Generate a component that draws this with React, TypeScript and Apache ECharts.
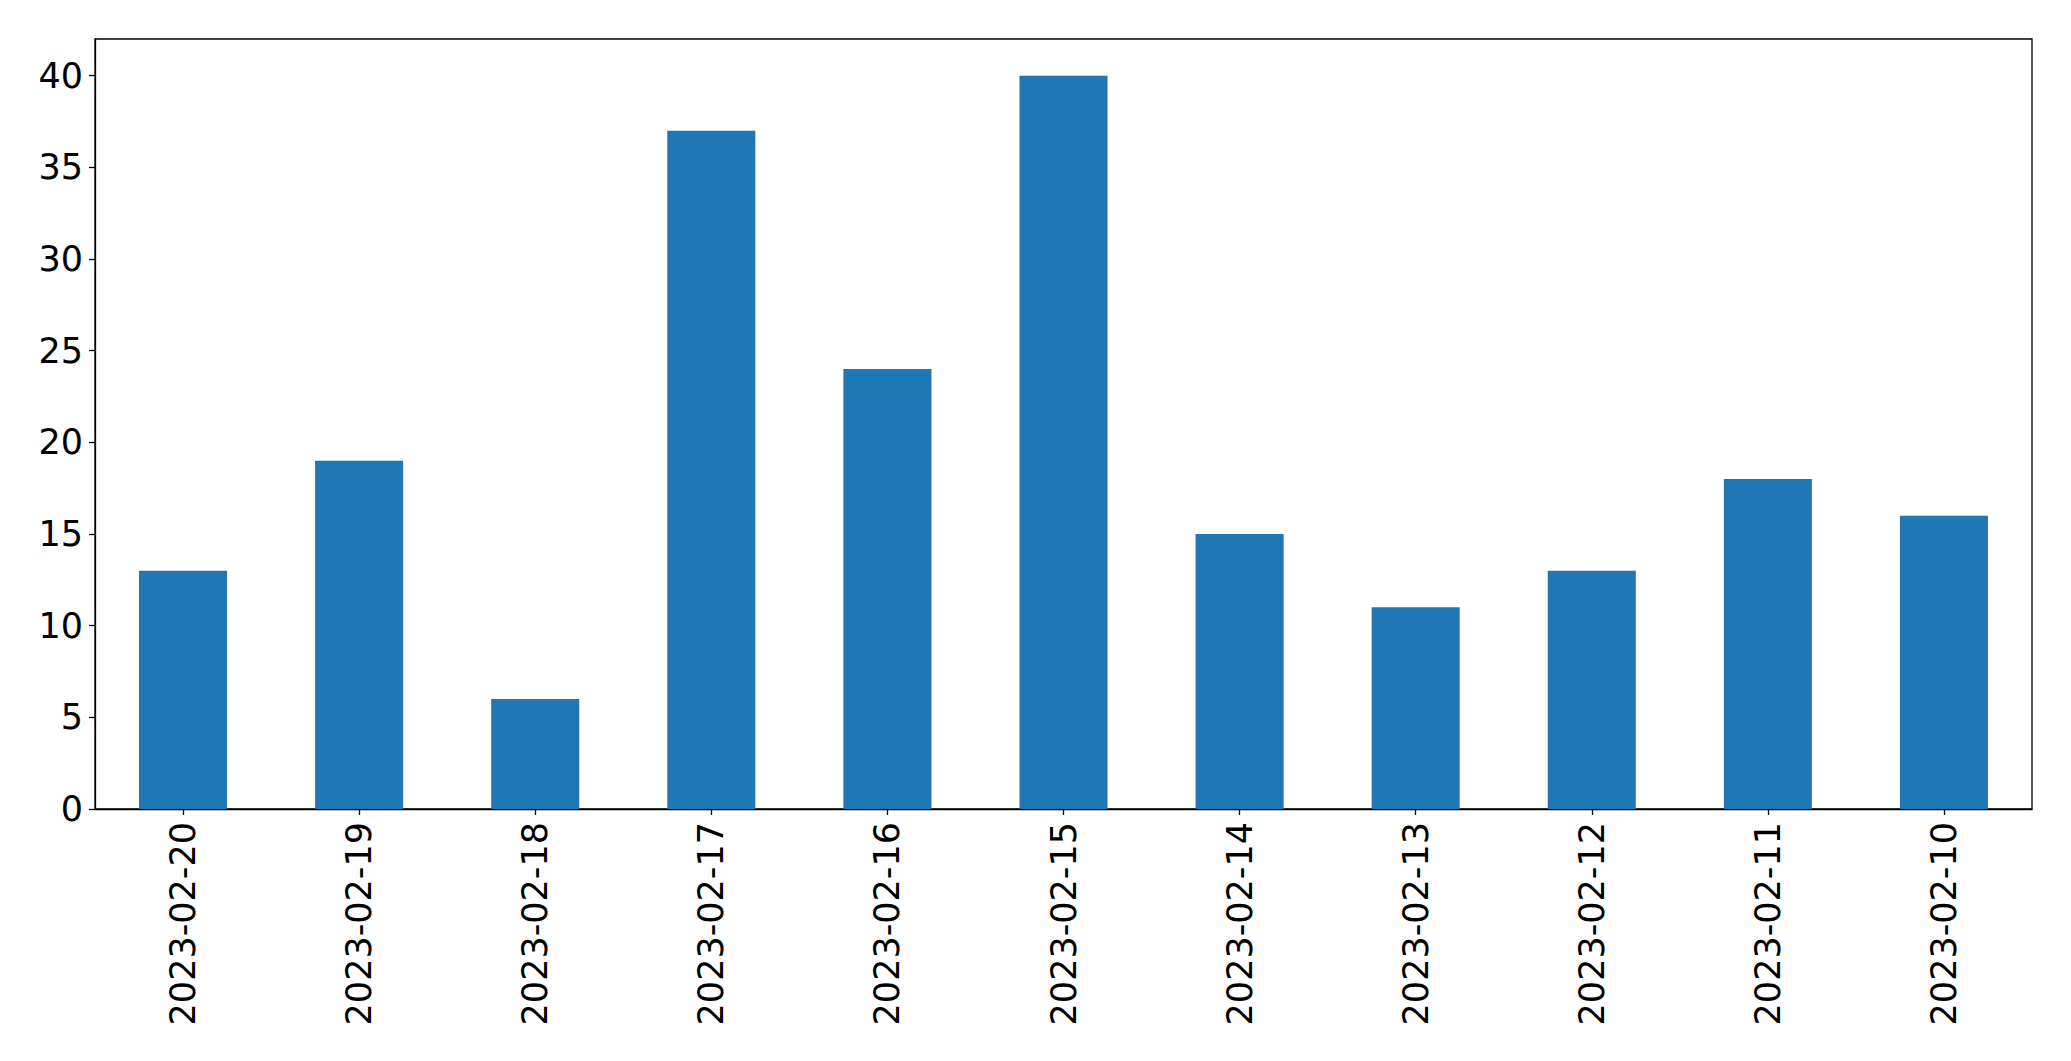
import React, { useEffect, useRef } from "react";
import * as echarts from "echarts";

const categories = [
  "2023-02-20",
  "2023-02-19",
  "2023-02-18",
  "2023-02-17",
  "2023-02-16",
  "2023-02-15",
  "2023-02-14",
  "2023-02-13",
  "2023-02-12",
  "2023-02-11",
  "2023-02-10",
];
const values = [13, 19, 6, 37, 24, 40, 15, 11, 13, 18, 16];
const yTicks = [0, 5, 10, 15, 20, 25, 30, 35, 40];

export default function App() {
  const ref = useRef<HTMLDivElement>(null);
  useEffect(() => {
    if (!ref.current) return;
    const chart = echarts.init(ref.current, null, { renderer: "svg" });
    const font = "DejaVu Sans";
    chart.setOption({
      animation: false,
      backgroundColor: "#ffffff",
      grid: {
        left: 95,
        right: 39,
        top: 39,
        bottom: 252,
        show: true,
        borderColor: "#000000",
        borderWidth: 1.3,
        backgroundColor: "transparent",
      },
      xAxis: {
        type: "category",
        data: categories,
        boundaryGap: true,
        axisLine: { show: true, lineStyle: { color: "#000000", width: 1.3 } },
        axisTick: {
          show: true,
          alignWithLabel: true,
          length: 6,
          lineStyle: { color: "#000000", width: 1.3 },
        },
        axisLabel: {
          rotate: 90,
          margin: 13,
          color: "#000000",
          fontFamily: font,
          fontSize: 35,
          interval: 0,
        },
        splitLine: { show: false },
      },
      yAxis: {
        type: "value",
        min: 0,
        max: 42,
        interval: 5,
        axisLine: { show: true, lineStyle: { color: "#000000", width: 1.3 } },
        axisTick: {
          show: true,
          length: 6,
          customValues: yTicks,
          lineStyle: { color: "#000000", width: 1.3 },
        },
        axisLabel: {
          margin: 12,
          color: "#000000",
          fontFamily: font,
          fontSize: 35,
          customValues: yTicks,
        },
        splitLine: { show: false },
      },
      series: [
        {
          type: "bar",
          data: values,
          barWidth: "50%",
          itemStyle: { color: "#1f77b4" },
        },
      ],
    });
    return () => chart.dispose();
  }, []);
  return (
    <div
      ref={ref}
      style={{ position: "fixed", left: 0, top: 0, width: 2071, height: 1061 }}
    />
  );
}
